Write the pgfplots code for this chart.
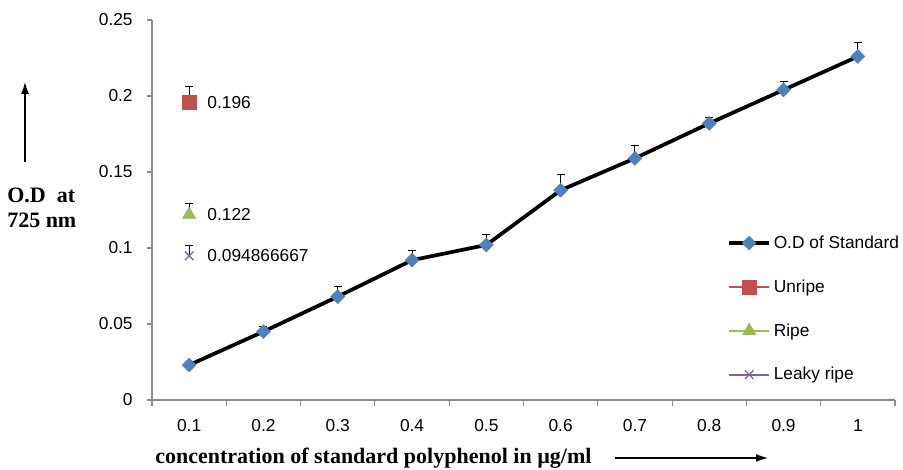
\documentclass[border=0pt]{standalone}
\usepackage{pgfplots}
\pgfplotsset{compat=1.18}
\usetikzlibrary{arrows.meta}
\usepackage{fontspec}
\setmainfont{Liberation Sans}
\newfontfamily\serifb{Liberation Serif}
\definecolor{cblue}{HTML}{4F81BD}
\definecolor{cred}{HTML}{C0504D}
\definecolor{cgreen}{HTML}{9BBB59}
\definecolor{cpurple}{HTML}{8064A2}
\definecolor{axgray}{HTML}{8C8C8C}
\begin{document}
\begin{tikzpicture}[x=0.75pt,y=0.75pt]
\useasboundingbox (0,0) rectangle (903,470);
\begin{axis}[
  at={(114pt,52.5pt)}, anchor=south west,
  scale only axis, width=557.25pt, height=285pt,
  xmin=-0.5, xmax=9.5, ymin=0, ymax=0.25,
  axis x line*=bottom, axis y line*=left,
  axis line style={-, axgray, line width=0.8pt},
  xtick={0,...,9},
  xticklabels={0.1,0.2,0.3,0.4,0.5,0.6,0.7,0.8,0.9,1},
  minor xtick={-0.5,0.5,...,9.5},
  x tick style={draw=none},
  minor x tick style={axgray, line width=0.8pt, draw=axgray},
  minor tick length=4.5pt,
  ytick={0,0.05,0.1,0.15,0.2,0.25},
  yticklabels={0,0.05,0.1,0.15,0.2,0.25},
  y tick style={axgray, line width=0.8pt},
  major tick length=4pt,
  tick align=outside,
  tick label style={font=\fontsize{13}{15}\selectfont, black},
  xticklabel style={yshift=-7pt},
  yticklabel style={xshift=-7pt},
  clip=false,
  legend style={draw=none, fill=none, at={(0.774,0.44)}, anchor=north west,
    font=\fontsize{13}{15}\selectfont, row sep=18pt, inner sep=0pt},
  legend cell align=left,
  legend image code/.code={\draw[mark repeat=2,mark phase=2] plot coordinates {(0pt,0pt)(15pt,0pt)(30pt,0pt)};},
  error bars/error bar style={black, line width=0.7pt},
  error bars/error mark options={black, mark size=3pt, line width=0.7pt, rotate=90},
]
\addplot[black, line width=2.8pt, mark=square*, mark size=3.8pt,
  mark options={fill=cblue, draw=cblue, line width=0.1pt, rotate=45},
  error bars/.cd, y dir=plus, y explicit]
  table[x=x, y=y, y error=e] {
x y e
0 0.023 0.0
1 0.045 0.0037
2 0.068 0.0068
3 0.092 0.0066
4 0.102 0.0066
5 0.138 0.0105
6 0.159 0.0083
7 0.182 0.0037
8 0.204 0.0053
9 0.226 0.0092
};
\addlegendentry{O.D of Standard}
\addplot[cred, line width=1.6pt, mark=square*, mark size=5.2pt,
  mark options={fill=cred, draw=cred, line width=0.1pt},
  error bars/.cd, y dir=plus, y explicit]
  table[x=x, y=y, y error=e] {
x y e
0 0.196 0.0105
};
\addlegendentry{Unripe}
\addplot[cgreen, line width=1.6pt, mark=triangle*, mark size=6pt,
  mark options={fill=cgreen, draw=cgreen, line width=0.1pt},
  error bars/.cd, y dir=plus, y explicit]
  table[x=x, y=y, y error=e] {
x y e
0 0.122 0.007
};
\addlegendentry{Ripe}
\addplot[cpurple, line width=1.4pt, mark=x, mark size=4.5pt,
  mark options={draw=cpurple, line width=1pt},
  error bars/.cd, y dir=plus, y explicit]
  table[x=x, y=y, y error=e] {
x y e
0 0.094866667 0.007
};
\addlegendentry{Leaky ripe}
\node[anchor=west, font=\fontsize{13}{15}\selectfont, inner sep=0pt] at (axis cs:0,0.196) [xshift=13.5pt, yshift=-0.5pt] {0.196};
\node[anchor=west, font=\fontsize{13}{15}\selectfont, inner sep=0pt] at (axis cs:0,0.122) [xshift=13.5pt, yshift=0pt] {0.122};
\node[anchor=west, font=\fontsize{13}{15}\selectfont, inner sep=0pt] at (axis cs:0,0.094866667) [xshift=13.5pt, yshift=0pt] {0.094866667};
\end{axis}
\node[anchor=west, inner sep=0pt, font=\serifb\bfseries\fontsize{16.5}{18}\selectfont] at (7,275) {O.D\ \ at};
\node[anchor=west, inner sep=0pt, font=\serifb\bfseries\fontsize{16.5}{18}\selectfont] at (7,250) {725 nm};
\draw[-{Latex[length=9pt,width=6pt]}, line width=0.9pt] (25,308) -- (25,388);
\node[anchor=west, inner sep=0pt, font=\serifb\bfseries\fontsize{16.5}{18}\selectfont] at (155,12) {concentration of standard polyphenol in µg/ml};
\draw[-{Latex[length=9pt,width=6pt]}, line width=0.9pt] (615,12) -- (768,12);
\end{tikzpicture}
\end{document}
